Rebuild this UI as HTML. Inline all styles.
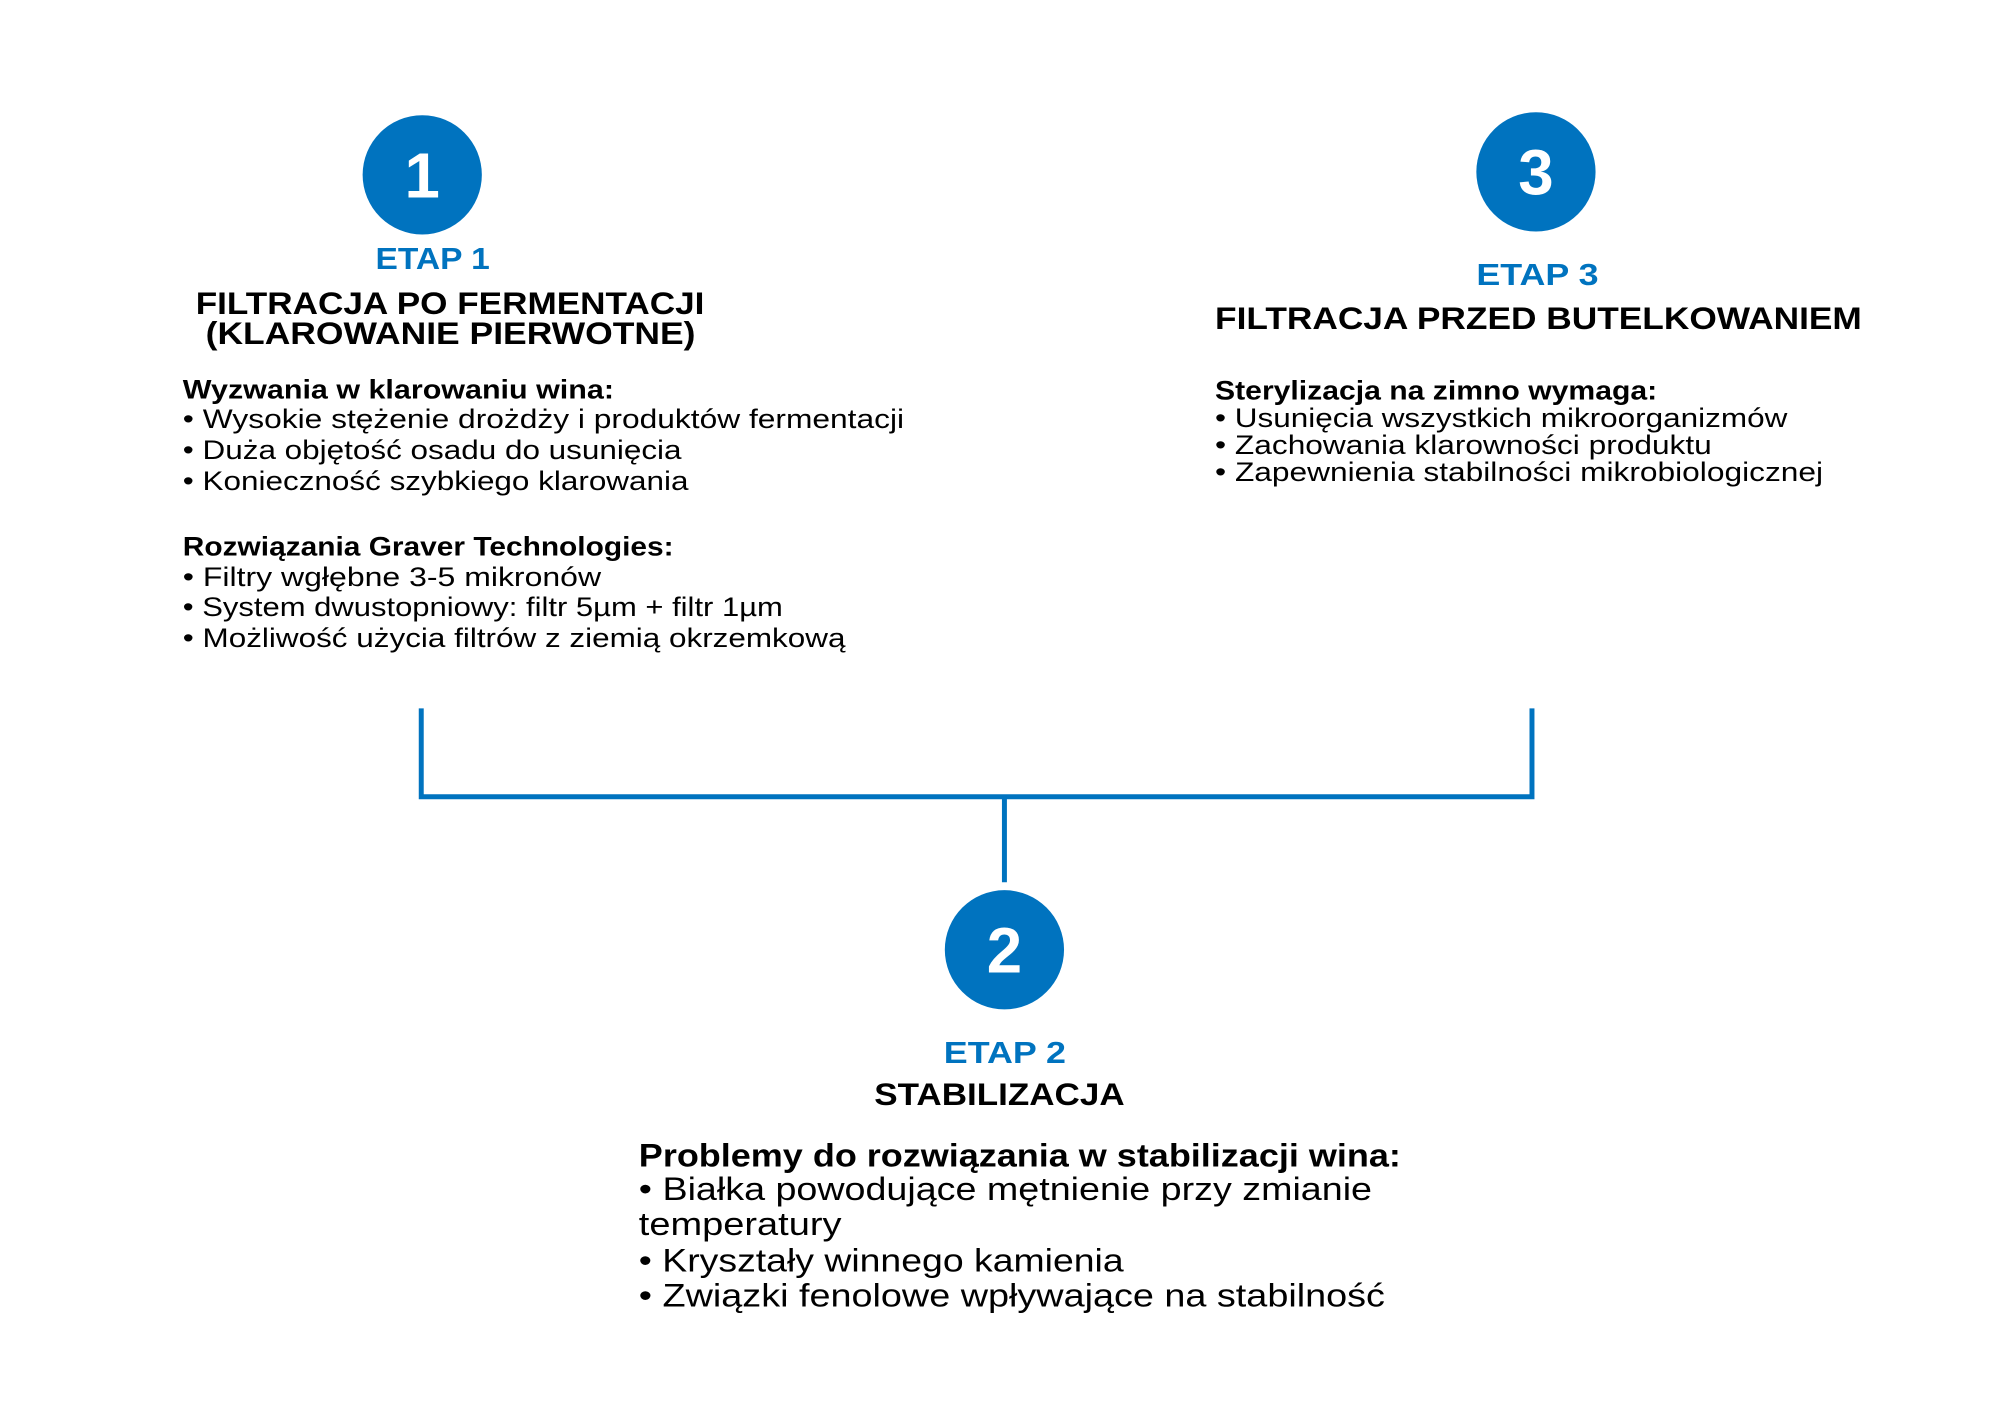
<!DOCTYPE html>
<html><head><meta charset="utf-8"><style>html,body{margin:0;padding:0;background:#fff}svg{display:block}</style></head>
<body>
<svg width="2000" height="1414" viewBox="0 0 2000 1414" xmlns="http://www.w3.org/2000/svg" font-family="Liberation Sans, sans-serif">
<rect width="2000" height="1414" fill="#fff"/>
<g transform="scale(0.9935)">
<g fill="#0073BF">
<circle cx="425" cy="176" r="60"/>
<circle cx="1546" cy="173" r="60"/>
<circle cx="1011" cy="956" r="60"/>
</g>
<g stroke="#0073BF" stroke-width="5" fill="none">
<path d="M424 713 V802 H1542 V713"/>
<path d="M1011 802 V888"/>
</g>
<g fill="#fff" font-weight="bold" font-size="64" text-anchor="middle">
<text x="425" y="199">1</text>
<text x="1546" y="196">3</text>
<text x="1011" y="979">2</text>
</g>
<g fill="#0073BF" font-weight="bold" font-size="31">
<text x="378" y="271" textLength="115" lengthAdjust="spacingAndGlyphs">ETAP 1</text>
<text x="1486" y="287" textLength="123" lengthAdjust="spacingAndGlyphs">ETAP 3</text>
<text x="950" y="1070" textLength="123" lengthAdjust="spacingAndGlyphs">ETAP 2</text>
</g>
<g fill="#000" font-weight="bold" font-size="32">
<text x="197" y="316" textLength="512" lengthAdjust="spacingAndGlyphs">FILTRACJA PO FERMENTACJI</text>
<text x="207" y="346" textLength="493" lengthAdjust="spacingAndGlyphs">(KLAROWANIE PIERWOTNE)</text>
<text x="1223" y="331" textLength="651" lengthAdjust="spacingAndGlyphs">FILTRACJA PRZED BUTELKOWANIEM</text>
<text x="880" y="1112" textLength="252" lengthAdjust="spacingAndGlyphs">STABILIZACJA</text>
</g>
<g fill="#000" font-size="27">
<text x="184" y="401" font-weight="bold" textLength="434" lengthAdjust="spacingAndGlyphs">Wyzwania w klarowaniu wina:</text>
<text x="184" y="431" textLength="726" lengthAdjust="spacingAndGlyphs">• Wysokie stężenie drożdży i produktów fermentacji</text>
<text x="184" y="462" textLength="502" lengthAdjust="spacingAndGlyphs">• Duża objętość osadu do usunięcia</text>
<text x="184" y="493" textLength="509" lengthAdjust="spacingAndGlyphs">• Konieczność szybkiego klarowania</text>
<text x="184" y="559" font-weight="bold" textLength="494" lengthAdjust="spacingAndGlyphs">Rozwiązania Graver Technologies:</text>
<text x="184" y="590" textLength="421" lengthAdjust="spacingAndGlyphs">• Filtry wgłębne 3-5 mikronów</text>
<text x="184" y="620" textLength="604" lengthAdjust="spacingAndGlyphs">• System dwustopniowy: filtr 5µm + filtr 1µm</text>
<text x="184" y="651" textLength="667" lengthAdjust="spacingAndGlyphs">• Możliwość użycia filtrów z ziemią okrzemkową</text>
<text x="1223" y="402" font-weight="bold" textLength="445" lengthAdjust="spacingAndGlyphs">Sterylizacja na zimno wymaga:</text>
<text x="1223" y="430" textLength="576" lengthAdjust="spacingAndGlyphs">• Usunięcia wszystkich mikroorganizmów</text>
<text x="1223" y="457" textLength="500" lengthAdjust="spacingAndGlyphs">• Zachowania klarowności produktu</text>
<text x="1223" y="484" textLength="612" lengthAdjust="spacingAndGlyphs">• Zapewnienia stabilności mikrobiologicznej</text>
</g>
<g fill="#000" font-size="33">
<text x="643" y="1174" font-weight="bold" textLength="767" lengthAdjust="spacingAndGlyphs">Problemy do rozwiązania w stabilizacji wina:</text>
<text x="643" y="1208" textLength="738" lengthAdjust="spacingAndGlyphs">• Białka powodujące mętnienie przy zmianie</text>
<text x="643" y="1243" textLength="204" lengthAdjust="spacingAndGlyphs">temperatury</text>
<text x="643" y="1280" textLength="488" lengthAdjust="spacingAndGlyphs">• Kryształy winnego kamienia</text>
<text x="643" y="1315" textLength="751" lengthAdjust="spacingAndGlyphs">• Związki fenolowe wpływające na stabilność</text>
</g>
</g>
</svg>
</body></html>
